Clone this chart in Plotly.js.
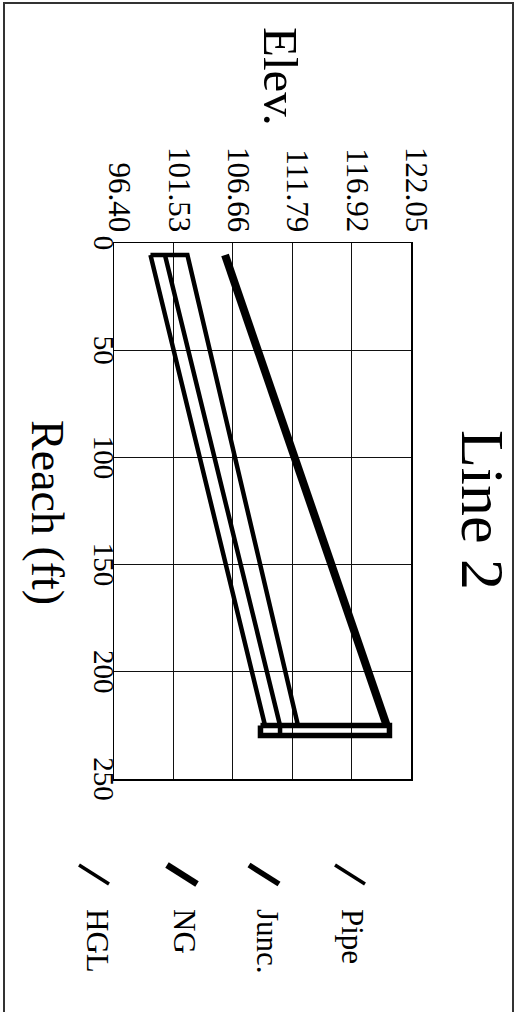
<!DOCTYPE html>
<html>
<head>
<meta charset="utf-8">
<script src="https://cdn.plot.ly/plotly-3.0.1.min.js"></script>
<style>
  html, body { margin: 0; padding: 0; background: #fff; overflow: hidden; width: 529px; height: 1012px; }
  #plot { position: absolute; left: 0; top: 0; width: 1012px; height: 529px;
          transform-origin: 0 0; transform: translate(529px, 0) rotate(90deg); }
  #frame { position: absolute; left: 3px; top: 2px; width: 511px; height: 1030px;
           border: 2px solid #333; box-sizing: border-box; pointer-events: none; }
</style>
</head>
<body>
<div id="plot"></div>
<div id="frame"></div>
<script>
// ---- data (Reach in ft, Elevation) ----
const reachTicks = [0, 50, 100, 150, 200, 250];
const elevTicks = [96.40, 101.53, 106.66, 111.79, 116.92, 122.05];
const elevTickText = ['96.40', '101.53', '106.66', '111.79', '116.92', '122.05'];

const reachPipe = [5.6, 225, 225, 5.6, 5.6];
const elevPipe  = [99.55, 109.44, 112.29, 102.74, 99.55];

const reachHGL = [5.6, 225, 229.7];
const elevHGL  = [100.8, 110.74, 110.74];

const reachNG = [5.6, 225];
const elevNG  = [105.99, 119.95];

const reachJunc = [225, 229.7, 229.7, 225, 225];
const elevJunc  = [109.05, 109.05, 120.19, 120.19, 109.05];

const legendLabels = ['Pipe', 'Junc.', 'NG', 'HGL'];
const legendWidths = [3.5, 5.5, 6.5, 3.5];

// ---- layout geometry (unrotated frame, 1012 x 529) ----
const W = 1012, H = 529;
const M = { l: 243, r: 233, t: 118, b: 114 };
const PW = W - M.l - M.r, PH = H - M.t - M.b;
const px = x => (x - M.l) / PW;      // pixel -> paper x
const py = y => (H - M.b - y) / PH;  // pixel -> paper y

const FONT = 'Liberation Serif, Times New Roman, serif';

const traces = [
  { name: 'Pipe', x: reachPipe, y: elevPipe, mode: 'lines', line: { color: '#000', width: 4.5 } },
  { name: 'HGL', x: reachHGL, y: elevHGL, mode: 'lines', line: { color: '#000', width: 4.5 } },
  { name: 'NG', x: reachNG, y: elevNG, mode: 'lines', line: { color: '#000', width: 8 } },
  { name: 'Junc.', x: reachJunc, y: elevJunc, mode: 'lines', line: { color: '#000', width: 5.5 } },
  // invisible trace carrying the Reach tick labels axis
  { x: reachTicks, y: reachTicks.map(() => null), xaxis: 'x2', yaxis: 'y', mode: 'lines',
    hoverinfo: 'skip', showlegend: false }
];

const legendRowY = [176, 261, 344, 431];
const slashDy = [0, 1, 0, 1];
const shapes = [];
const annotations = [];
legendLabels.forEach((lab, i) => {
  const cy = legendRowY[i] + 3 + slashDy[i];
  shapes.push({ type: 'line', xref: 'paper', yref: 'paper',
    x0: px(865), y0: py(cy + 15), x1: px(884), y1: py(cy - 15),
    line: { color: '#000', width: legendWidths[i] } });
  annotations.push({ xref: 'paper', yref: 'paper', x: px(907), y: py(legendRowY[i]),
    xanchor: 'left', yanchor: 'middle', showarrow: false, text: lab,
    font: { family: FONT, size: 31, color: '#000' } });
});

annotations.push({ xref: 'paper', yref: 'paper', x: px(25), y: py(248),
  xanchor: 'left', yanchor: 'middle', showarrow: false, text: 'Elev.',
  font: { family: FONT, size: 49, color: '#000' } });
annotations.push({ xref: 'paper', yref: 'paper', x: px(512), y: py(481),
  xanchor: 'center', yanchor: 'middle', showarrow: false, text: 'Reach (ft)',
  font: { family: FONT, size: 46, color: '#000' } });

const layout = {
  width: W, height: H,
  margin: { l: M.l, r: M.r, t: M.t, b: M.b, pad: 0 },
  paper_bgcolor: '#fff', plot_bgcolor: '#fff',
  showlegend: false,
  title: { text: 'Line 2', xref: 'container', yref: 'container', x: 510 / W, y: 1 - 45 / H,
           xanchor: 'center', yanchor: 'middle', font: { family: FONT, size: 62, color: '#000' } },
  xaxis: {
    range: [0, 250], tickmode: 'array', tickvals: reachTicks, ticks: '', showticklabels: false,
    showgrid: true, gridcolor: '#111', gridwidth: 1, zeroline: false,
    showline: true, mirror: true, linecolor: '#000', linewidth: 1.5
  },
  xaxis2: {
    range: [0, 250], overlaying: 'x', anchor: 'free', position: 10 / PH, side: 'bottom',
    tickmode: 'array', tickvals: reachTicks, ticks: '',
    showgrid: false, zeroline: false, showline: false,
    tickfont: { family: FONT, size: 29, color: '#000' }
  },
  yaxis: {
    range: [96.40, 122.05], tickmode: 'array', tickvals: elevTicks, ticktext: elevTickText, ticks: '',
    showgrid: true, gridcolor: '#111', gridwidth: 1, zeroline: false,
    showline: true, mirror: true, linecolor: '#000', linewidth: 1.5,
    tickfont: { family: FONT, size: 31, color: '#000' }, ticklabelstandoff: 3, ticklabelshift: -6
  },
  shapes: shapes,
  annotations: annotations
};

Plotly.newPlot('plot', traces, layout, { displayModeBar: false, staticPlot: true });
</script>
</body>
</html>
